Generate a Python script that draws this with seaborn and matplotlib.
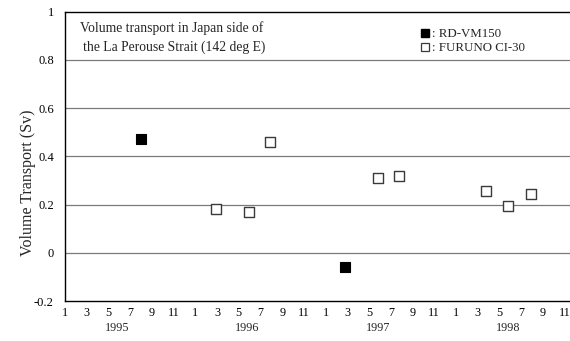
import matplotlib
matplotlib.use("Agg")
import matplotlib.pyplot as plt
import matplotlib.transforms as mtransforms
from matplotlib.lines import Line2D
import seaborn as sns
import pandas as pd

# Month index counted from January 1995 = 1
rd_month = [8.0, 26.8]
rd_transport = [0.47, -0.06]

furuno_month = [14.9, 17.9, 19.9, 29.8, 31.8, 39.8, 41.8, 43.9]
furuno_transport = [0.18, 0.17, 0.46, 0.31, 0.32, 0.255, 0.195, 0.245]

years = ["1995", "1996", "1997", "1998"]
month_labels = ["1", "3", "5", "7", "9", "11"]
y_ticks = [-0.2, 0, 0.2, 0.4, 0.6, 0.8, 1]
y_tick_labels = ["-0.2", "0", "0.2", "0.4", "0.6", "0.8", "1"]

sns.set_theme(style="white")
plt.rcParams["font.family"] = ["Liberation Serif", "DejaVu Serif"]

fig = plt.figure(figsize=(5.70, 3.41), dpi=100)
ax = fig.add_axes([65 / 570, 1 - 301 / 341, 1 - 65 / 570, (301 - 11.7) / 341])

rd = pd.DataFrame({"month": rd_month, "transport": rd_transport})
fu = pd.DataFrame({"month": furuno_month, "transport": furuno_transport})

sns.scatterplot(data=rd, x="month", y="transport", ax=ax, marker="s", s=44,
                color="black", edgecolor="black", linewidth=0.8, zorder=3)
sns.scatterplot(data=fu, x="month", y="transport", ax=ax, marker="s", s=44,
                facecolor="white", edgecolor="#3a3a3a", linewidth=1.0, zorder=3)

ax.set_xlim(1, 47.5)
ax.set_ylim(-0.2, 1)

# horizontal reference lines
for yv in y_ticks[1:-1]:
    ax.axhline(yv, color="#7a7a7a", linewidth=0.9, zorder=1)

ax.set_yticks(y_ticks)
ax.set_yticklabels(y_tick_labels)
month_ticks = [12 * i + int(m) for i in range(len(years)) for m in month_labels]
ax.set_xticks(month_ticks)
ax.set_xticklabels(month_labels * len(years))
ax.tick_params(axis="x", direction="in", length=3, width=0.6, color="#555555",
               pad=4, labelsize=8.7, labelcolor="black")
ax.tick_params(axis="y", length=0, pad=8, labelsize=9, labelcolor="black")

for side in ["left", "top", "bottom"]:
    ax.spines[side].set_color("black")
    ax.spines[side].set_linewidth(1.0)
ax.spines["right"].set_visible(False)

ax.set_xlabel("")
ax.set_ylabel("")
fig.text(28 / 570, 1 - 183 / 341, "Volume Transport (Sv)", rotation=90,
         ha="center", va="center", fontsize=11.5)

# year labels under the month ticks
trans = mtransforms.blended_transform_factory(ax.transData, fig.transFigure)
for i, yr in enumerate(years):
    ax.text(12 * i + 5.8, 1 - 328 / 341, yr, transform=trans, ha="center",
            va="center", fontsize=8.7)

fig.text(80 / 570, 1 - 28 / 341, "Volume transport in Japan side of",
         ha="left", va="center", fontsize=9.8)
fig.text(83 / 570, 1 - 47 / 341, "the La Perouse Strait (142 deg E)",
         ha="left", va="center", fontsize=9.8)

handles = [
    Line2D([], [], linestyle="none", marker="s", markersize=5.5,
           markerfacecolor="black", markeredgecolor="black"),
    Line2D([], [], linestyle="none", marker="s", markersize=5.5,
           markerfacecolor="white", markeredgecolor="#3a3a3a", markeredgewidth=0.9),
]
leg = ax.legend(handles, [": RD-VM150", ": FURUNO CI-30"], frameon=False,
                loc="upper left", bbox_to_anchor=((422 - 65) / (570 - 65), 1 - 16.5 / 289.3),
                handlelength=0.5, handletextpad=0.3, labelspacing=0.15,
                fontsize=9.3, borderaxespad=0, borderpad=0)

fig.savefig("out.png", dpi=100)
